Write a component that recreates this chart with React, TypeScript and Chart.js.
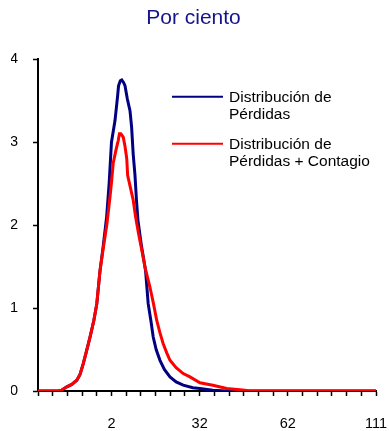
import { useEffect, useRef } from "react";
import { Chart, registerables } from "chart.js";

Chart.register(...registerables);

const titleText = "Por ciento";

// x values are category positions along the axis (0..115)
const lossX = [0, 7, 8, 9.8, 11.5, 13.2, 14.3, 15.4, 16.5, 17.7, 19, 20, 21.1, 22.2, 23.35, 24.2, 25, 26.2, 27.1, 27.4, 28, 28.5, 29.1, 29.6, 30.4, 31.3, 31.85, 32.4, 33.0, 33.5, 34.0, 35.2, 36.6, 37.5, 38.4, 39.2, 40.2, 41.5, 43, 44.9, 47, 49.4, 52.7, 55.1, 59.5, 64, 115];
const lossY = [0, 0, 0.01, 0.05, 0.08, 0.13, 0.2, 0.33, 0.48, 0.65, 0.85, 1.05, 1.45, 1.75, 2.1, 2.5, 3.0, 3.26, 3.56, 3.68, 3.74, 3.75, 3.72, 3.68, 3.52, 3.38, 3.18, 2.85, 2.6, 2.3, 2.06, 1.75, 1.45, 1.05, 0.85, 0.65, 0.5, 0.37, 0.26, 0.17, 0.11, 0.07, 0.04, 0.03, 0.01, 0, 0];

const contagionX = [0, 7, 8, 9.8, 11.5, 13.2, 14.3, 15.4, 16.5, 17.7, 19, 20, 21.1, 22.2, 23.4, 24.5, 25.1, 25.6, 26.5, 27.3, 27.7, 28.2, 29.0, 29.6, 30.2, 30.5, 31.9, 32.4, 33.2, 34.2, 35.3, 36.5, 38.1, 39.3, 40.4, 41.5, 42.6, 43.8, 44.9, 47, 49.4, 51.7, 55.1, 59.5, 64.2, 70.4, 72, 115];
const contagionY = [0, 0, 0.01, 0.05, 0.08, 0.13, 0.2, 0.33, 0.48, 0.65, 0.85, 1.05, 1.45, 1.72, 2.0, 2.34, 2.55, 2.75, 2.9, 3.02, 3.1, 3.1, 3.06, 2.95, 2.8, 2.6, 2.38, 2.3, 2.1, 1.9, 1.7, 1.48, 1.25, 1.05, 0.85, 0.7, 0.57, 0.46, 0.37, 0.28, 0.21, 0.17, 0.1, 0.07, 0.03, 0.01, 0, 0];

const xTickPositions = [25, 55, 85, 115];
const xTickLabels = ["2", "32", "62", "111"];

const lossLabel = ["Distribución de", "Pérdidas"];
const contagionLabel = ["Distribución de", "Pérdidas + Contagio"];

const BLUE = "#000080";
const RED = "#ff0000";
const FONT = '"Liberation Sans", Arial, sans-serif';

const legendPlugin = {
  id: "customLegend",
  afterDraw(chart: any) {
    const { ctx, chartArea } = chart;
    const x0 = chartArea.left + 134;
    const entries = [
      { color: BLUE, lines: lossLabel, y: chartArea.top + 39 },
      { color: RED, lines: contagionLabel, y: chartArea.top + 86 },
    ];
    ctx.save();
    ctx.font = `15.5px ${FONT}`;
    ctx.textBaseline = "middle";
    ctx.textAlign = "left";
    for (const e of entries) {
      ctx.strokeStyle = e.color;
      ctx.lineWidth = 2;
      ctx.beginPath();
      ctx.moveTo(x0, e.y - 1.5);
      ctx.lineTo(x0 + 51, e.y - 1.5);
      ctx.stroke();
      ctx.fillStyle = "#000";
      e.lines.forEach((t: string, i: number) => {
        ctx.fillText(t, x0 + 57, e.y + i * 16.8);
      });
    }
    ctx.restore();
  },
};

export default function App() {
  const ref = useRef<HTMLCanvasElement>(null);
  useEffect(() => {
    Chart.defaults.font.family = FONT;
    const chart = new Chart(ref.current!, {
      type: "line",
      data: {
        datasets: [
          {
            label: lossLabel.join(" "),
            data: lossX.map((x, i) => ({ x, y: lossY[i] })),
            borderColor: BLUE,
            backgroundColor: BLUE,
            borderWidth: 3,
            pointRadius: 0,
            fill: false,
            tension: 0,
            order: 1,
          },
          {
            label: contagionLabel.join(" "),
            data: contagionX.map((x, i) => ({ x, y: contagionY[i] })),
            borderColor: RED,
            backgroundColor: RED,
            borderWidth: 3,
            pointRadius: 0,
            fill: false,
            tension: 0,
            order: 0,
          },
        ],
      },
      options: {
        animation: false,
        responsive: true,
        maintainAspectRatio: false,
        layout: { padding: { left: 11, right: 13, top: 0, bottom: 0 } },
        plugins: {
          legend: { display: false },
          tooltip: { enabled: false },
          title: {
            display: true,
            text: titleText,
            color: "#14148c",
            font: { size: 21, weight: "normal", family: FONT },
            padding: { top: 6, bottom: 28 },
          },
        },
        scales: {
          x: {
            type: "linear",
            min: 0,
            max: 115,
            grid: {
              drawOnChartArea: false,
              drawTicks: true,
              tickLength: 5,
              tickColor: "#000",
              tickWidth: 1.5,
            },
            border: { display: true, color: "#000", width: 2 },
            afterBuildTicks: (axis: any) => {
              const t = [];
              for (let v = 0; v <= 115; v += 5) t.push({ value: v });
              axis.ticks = t;
            },
            afterFit: (scale: any) => {
              scale.height = 40;
              scale.paddingLeft = 0;
              scale.paddingRight = 0;
            },
            ticks: {
              autoSkip: false,
              maxRotation: 0,
              padding: 19,
              color: "#000",
              font: { size: 14.5 },
              callback: (v: any) => {
                const idx = xTickPositions.indexOf(Number(v));
                return idx >= 0 ? xTickLabels[idx] : "";
              },
            },
          },
          y: {
            min: 0,
            max: 4,
            grid: {
              drawOnChartArea: false,
              drawTicks: true,
              tickLength: 5,
              tickColor: "#000",
              tickWidth: 1.5,
            },
            border: { display: true, color: "#000", width: 2 },
            afterFit: (scale: any) => {
              scale.width = 27;
              scale.paddingTop = 0;
              scale.paddingBottom = 0;
            },
            ticks: {
              stepSize: 1,
              padding: 15,
              color: "#000",
              font: { size: 14.5 },
            },
          },
        },
      },
      plugins: [legendPlugin],
    } as any);
    return () => chart.destroy();
  }, []);
  return (
    <div style={{ position: "absolute", left: 0, top: 0, width: 389, height: 431, background: "#fff" }}>
      <canvas ref={ref} />
    </div>
  );
}
